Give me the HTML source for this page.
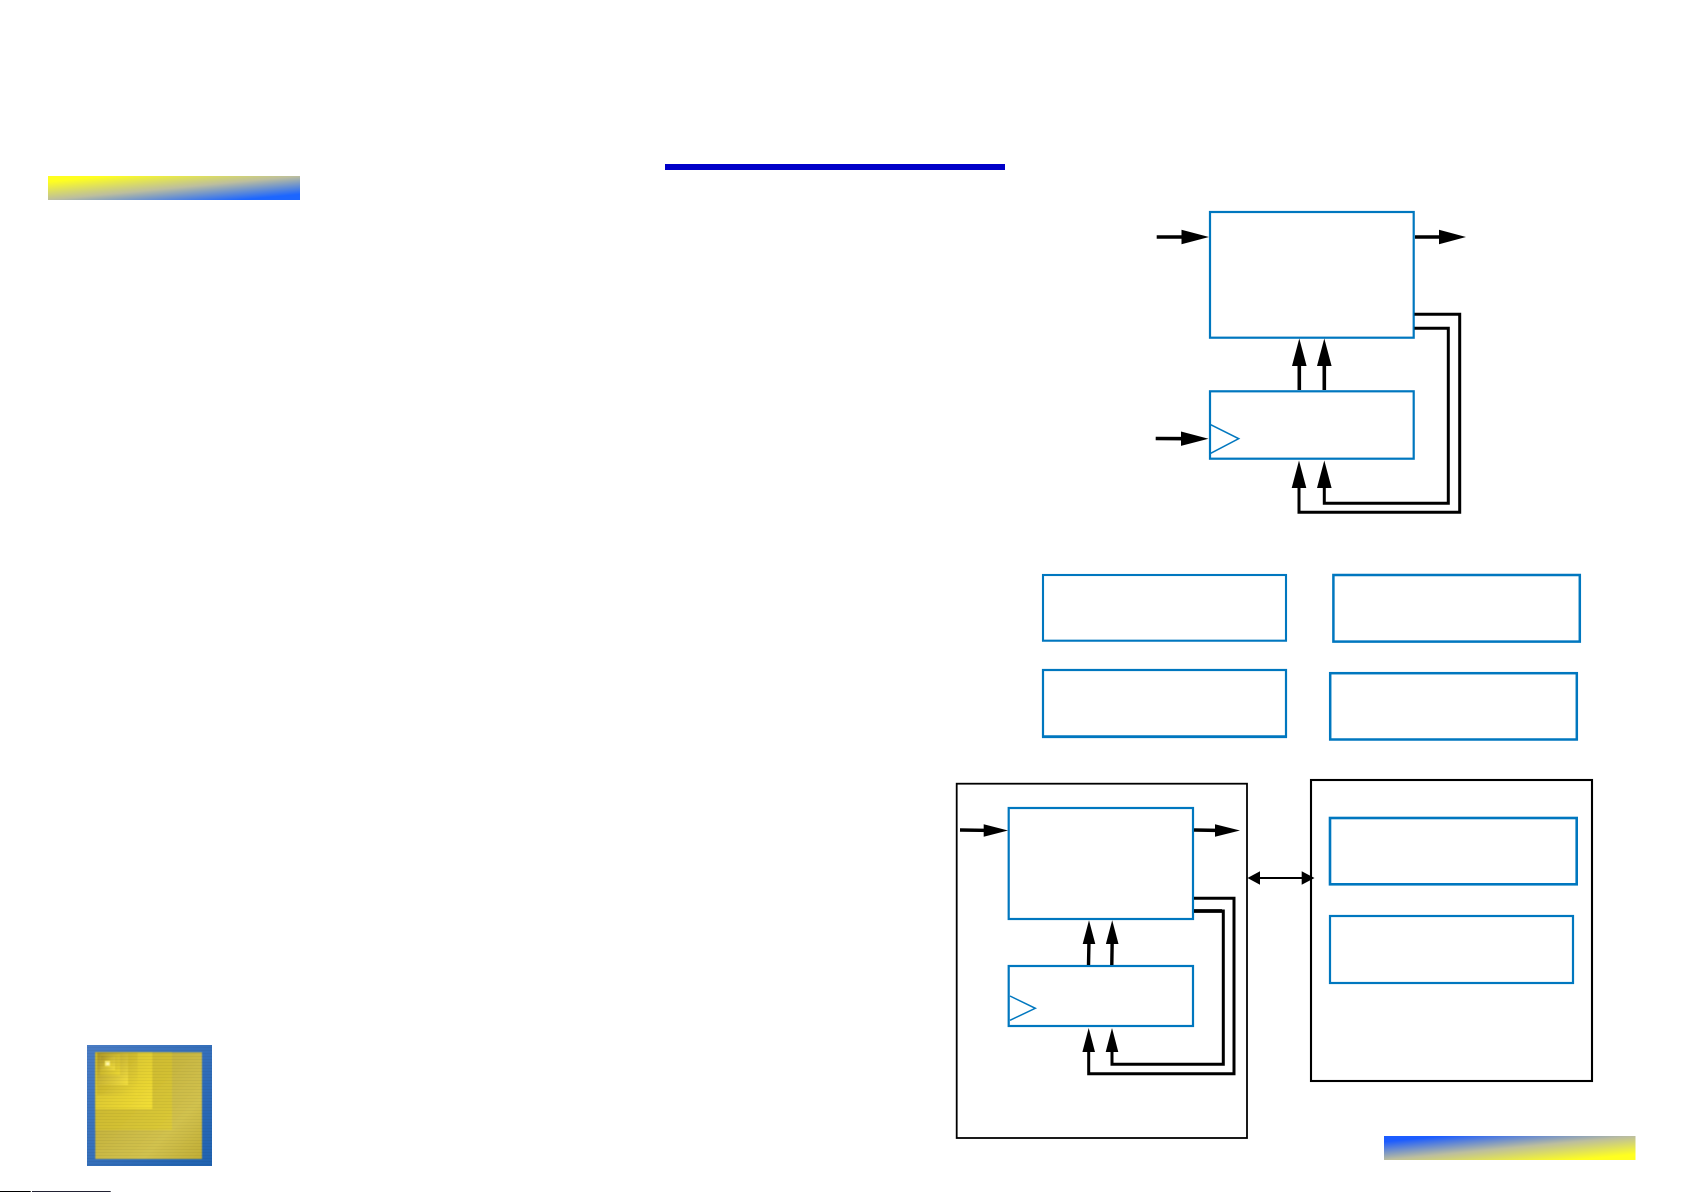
<!DOCTYPE html>
<html>
<head>
<meta charset="utf-8">
<title>Diagram</title>
<style>
html,body{margin:0;padding:0;background:#fff;width:1685px;height:1192px;overflow:hidden}
svg{display:block}
</style>
</head>
<body>
<svg width="1685" height="1192" viewBox="0 0 1685 1192" xmlns="http://www.w3.org/2000/svg">
<defs>
<linearGradient id="g1" x1="0" y1="0" x2="1" y2="1">
<stop offset="0" stop-color="#ffff20"/><stop offset="0.12" stop-color="#ffff20"/><stop offset="0.5" stop-color="#bcbe9e"/><stop offset="0.88" stop-color="#1c66ff"/><stop offset="1" stop-color="#1c66ff"/>
</linearGradient>
<linearGradient id="g2" x1="0" y1="0" x2="1" y2="1">
<stop offset="0" stop-color="#1c5cff"/><stop offset="0.12" stop-color="#1c5cff"/><stop offset="0.5" stop-color="#bcbe9e"/><stop offset="0.88" stop-color="#ffff20"/><stop offset="1" stop-color="#ffff20"/>
</linearGradient>
<linearGradient id="chipBlue" x1="0" y1="0" x2="1" y2="1">
<stop offset="0" stop-color="#4a7cc4"/><stop offset="1" stop-color="#1f62b0"/>
</linearGradient>
<linearGradient id="s0" x1="0" y1="0" x2="1" y2="1">
<stop offset="0" stop-color="#b8a52e"/><stop offset="0.72" stop-color="#d2c24e"/><stop offset="1" stop-color="#c0ad35"/>
</linearGradient>
<linearGradient id="s1" x1="0" y1="0" x2="1" y2="1">
<stop offset="0" stop-color="#c4b02c"/><stop offset="1" stop-color="#dcca38"/>
</linearGradient>
<linearGradient id="s2" x1="0" y1="0" x2="1" y2="1">
<stop offset="0" stop-color="#cdb92c"/><stop offset="1" stop-color="#f3df36"/>
</linearGradient>
<linearGradient id="s3" x1="0" y1="0" x2="1" y2="1">
<stop offset="0" stop-color="#b39e2a"/><stop offset="1" stop-color="#ecd834"/>
</linearGradient>
<linearGradient id="s4" x1="0" y1="0" x2="1" y2="1">
<stop offset="0" stop-color="#a8932a"/><stop offset="1" stop-color="#f4e040"/>
</linearGradient>
<pattern id="stripes" width="3" height="3" patternUnits="userSpaceOnUse">
<rect width="3" height="1" fill="#000" opacity="0.045"/>
</pattern>
<filter id="soft" x="-5%" y="-5%" width="110%" height="110%"><feGaussianBlur stdDeviation="0.45"/></filter>
</defs>
<rect width="1685" height="1192" fill="#fff"/>

<!-- banners -->
<rect x="48" y="176" width="252" height="24" fill="url(#g1)"/>
<rect x="665" y="164" width="340" height="6" fill="#0000c8"/>
<rect x="1384" y="1136" width="251.5" height="24" fill="url(#g2)"/>

<!-- chip icon -->
<rect x="87" y="1045" width="125" height="121" fill="url(#chipBlue)"/>
<g filter="url(#soft)">
<rect x="95.3" y="1052.3" width="106.7" height="106.7" fill="url(#s0)"/>
<rect x="95.3" y="1052.3" width="76.7" height="77.7" fill="url(#s1)"/>
<rect x="95.3" y="1052.3" width="57" height="56.7" fill="url(#s2)"/>
<rect x="97" y="1052.3" width="40.7" height="42.7" fill="url(#s3)"/>
<rect x="98" y="1053" width="30" height="32" fill="url(#s4)"/>
<rect x="100" y="1054" width="20" height="21" fill="url(#s3)"/>
<rect x="101" y="1056" width="14" height="14" fill="url(#s4)"/>
<rect x="103" y="1058" width="9" height="9" fill="url(#s3)"/>
<rect x="105" y="1061" width="5" height="5" fill="#fbee70"/>
<rect x="106.5" y="1062.5" width="2.5" height="2.5" fill="#fff8b0"/>
</g>
<rect x="87" y="1045" width="125" height="121" fill="url(#stripes)"/>

<!-- top group -->
<g fill="none" stroke="#0077bf" stroke-width="2.2">
<rect x="1210" y="212" width="203.7" height="125.7"/>
<rect x="1210" y="391.3" width="203.7" height="67.4"/>
<polyline points="1210.7,424.7 1238.7,438.7 1210.7,453.3" stroke-width="1.5"/>
</g>
<g fill="none" stroke="#000" stroke-width="3">
<polyline points="1299,480 1299,512.3 1459.7,512.3 1459.7,314.3 1414.5,314.3"/>
<polyline points="1324.3,480 1324.3,503.3 1448.3,503.3 1448.3,328.3 1414.5,328.3"/>
</g>
<g fill="none" stroke="#000" stroke-width="3.6">
<line x1="1156.7" y1="237" x2="1190" y2="237"/>
<line x1="1415" y1="237" x2="1445" y2="237"/>
<line x1="1155.7" y1="438.5" x2="1190" y2="438.7"/>
<line x1="1299.3" y1="390" x2="1299.3" y2="360"/>
<line x1="1324.3" y1="390" x2="1324.3" y2="360"/>
</g>
<g fill="#000">
<polygon points="1209,237 1181.5,229.8 1181.5,244.2"/>
<polygon points="1466,237 1439,229.8 1439,244.2"/>
<polygon points="1208.5,438.7 1181,431.5 1181,445.9"/>
<polygon points="1299.3,338.5 1292,366 1306.6,366"/>
<polygon points="1324.3,338.5 1317,366 1331.6,366"/>
<polygon points="1299,460.5 1291.7,488 1306.3,488"/>
<polygon points="1324.3,460.5 1317,488 1331.6,488"/>
</g>

<!-- middle boxes -->
<g fill="none" stroke="#0077bf">
<rect x="1043" y="575" width="243" height="65.7" stroke-width="2.1"/>
<rect x="1333.4" y="575" width="246.4" height="66.6" stroke-width="2.5"/>
<rect x="1043" y="670" width="243" height="66.6" stroke-width="2.2"/>
<line x1="1042" y1="736.7" x2="1287" y2="736.7" stroke-width="2.8"/>
<rect x="1330.2" y="673.2" width="246.6" height="66.3" stroke-width="2.5"/>
</g>

<!-- bottom-left group -->
<rect x="956.7" y="783.7" width="290.3" height="354.3" fill="none" stroke="#000" stroke-width="1.8"/>
<g fill="none" stroke="#0077bf" stroke-width="2.2">
<rect x="1008.7" y="808" width="184.3" height="111"/>
<rect x="1008.7" y="966" width="184.3" height="60"/>
<polyline points="1010,996 1035.3,1008.3 1010,1020.3" stroke-width="1.5"/>
</g>
<g fill="none" stroke="#000" stroke-width="3">
<polyline points="1088.7,1045 1088.7,1073.7 1234,1073.7 1234,898.3 1194,898.3"/>
<polyline points="1112,1045 1112,1064.3 1223.3,1064.3 1223.3,911 1194,911"/>
</g>
<line x1="1194" y1="911" x2="1222" y2="911" stroke="#000" stroke-width="3.8"/>
<g fill="none" stroke="#000" stroke-width="3.4">
<line x1="960" y1="830" x2="990" y2="830.4"/>
<line x1="1194" y1="830" x2="1222" y2="830.5"/>
<line x1="1088.5" y1="965" x2="1089" y2="940"/>
<line x1="1111.8" y1="965" x2="1112.2" y2="940"/>
</g>
<g fill="#000">
<polygon points="1008,830.5 983.7,824.3 983.7,836.7"/>
<polygon points="1240,830.5 1215,824.3 1215,836.7"/>
<polygon points="1089,920.2 1082.7,944 1095.3,944"/>
<polygon points="1112.2,920.2 1105.9,944 1118.5,944"/>
<polygon points="1088.7,1028 1082.4,1052 1095,1052"/>
<polygon points="1112,1028 1105.7,1052 1118.3,1052"/>
</g>

<!-- double arrow -->
<line x1="1255" y1="878" x2="1306" y2="878" stroke="#000" stroke-width="2"/>
<polygon points="1247.5,878 1260,871.2 1260,884.8" fill="#000"/>
<polygon points="1314.5,878 1301.7,871.2 1301.7,884.8" fill="#000"/>

<!-- bottom-right group -->
<rect x="1311" y="780" width="281" height="301" fill="none" stroke="#000" stroke-width="2.1"/>
<rect x="1330" y="818" width="246.7" height="66.3" fill="none" stroke="#0077bf" stroke-width="2.6"/>
<rect x="1330" y="916" width="243" height="67" fill="none" stroke="#0077bf" stroke-width="2.2"/>

<!-- bottom edge line -->
<rect x="0" y="1191" width="30.7" height="1" fill="#000"/>
<rect x="32" y="1191" width="78.7" height="1" fill="#223"/>
</svg>
</body>
</html>
